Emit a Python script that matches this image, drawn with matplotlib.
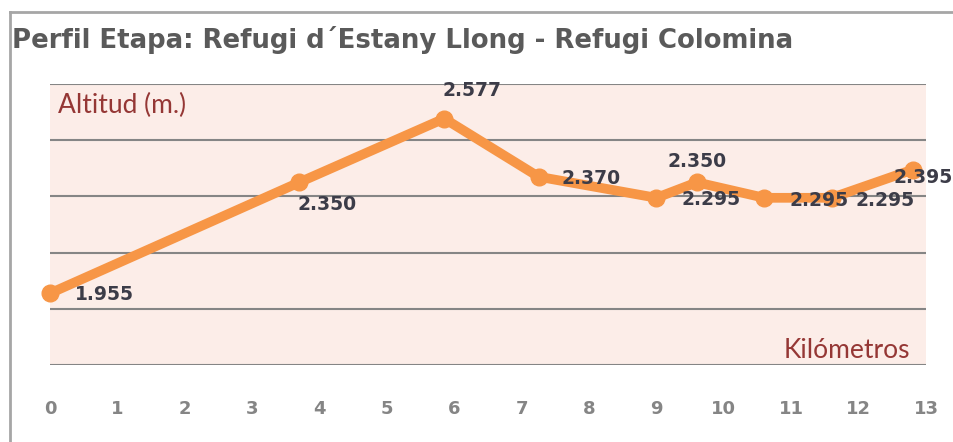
import matplotlib
matplotlib.use("Agg")
import matplotlib.pyplot as plt
from matplotlib.lines import Line2D

km = [0, 3.7, 5.85, 7.25, 9.0, 9.6, 10.6, 11.6, 12.8]
altitud = [1955, 2350, 2577, 2370, 2295, 2350, 2295, 2295, 2395]
etiquetas = ["1.955", "2.350", "2.577", "2.370", "2.295", "2.350", "2.295", "2.295", "2.395"]
xticks = list(range(0, 14))
yticks = [1700, 1900, 2100, 2300, 2500, 2700]

# offsets of each data label (pixels) and alignment
offsets = [(25, -1), (-2, -22), (-2, 28), (23, -2), (25, -2), (0, 21), (25, -3), (24, -3), (-19, -8)]
aligns = ['left', 'left', 'left', 'left', 'left', 'center', 'left', 'left', 'left']

naranja = '#f79646'
rojo = '#953735'

fig = plt.figure(figsize=(9.54, 4.42), dpi=100)
ax = fig.add_axes([50/954, 1-365/442, 876/954, 281/442])
ax.set_facecolor('#fcede8')

ax.plot(km, altitud, color=naranja, lw=7, marker='o', markersize=12,
        solid_capstyle='round', zorder=3, clip_on=False)

for x, y, t, off, ha in zip(km, altitud, etiquetas, offsets, aligns):
    ax.annotate(t, (x, y), xytext=off, textcoords='offset pixels', ha=ha, va='center',
                fontsize=13.5, fontweight='bold', color='#3c3c48', zorder=4,
                annotation_clip=False)

ax.set_xlim(0, 13)
ax.set_ylim(1700, 2700)
ax.set_xticks(xticks)
ax.set_yticks(yticks)
ax.set_yticklabels([])
ax.grid(axis='y', color='#858585', lw=1.5)
ax.set_axisbelow(True)
for s in ax.spines.values():
    s.set_visible(False)
ax.tick_params(axis='both', length=0)
ax.tick_params(axis='x', pad=25, labelsize=13, labelcolor='#858585')
for lbl in ax.get_xticklabels():
    lbl.set_fontweight('bold')

ax.text(0.009, 0.925, "Altitud (m.)", transform=ax.transAxes, ha='left', va='center',
        fontsize=19, color=rojo, family='Lato')
ax.text(0.982, 0.053, "Kilómetros", transform=ax.transAxes, ha='right', va='center',
        fontsize=19, color=rojo, family='Lato')

fig.text(12/954, 1-40/442, "Perfil Etapa: Refugi d´Estany Llong - Refugi Colomina",
         ha='left', va='center', fontsize=18.7, fontweight='bold', color='#5a5a5a')

# marco
fig.add_artist(Line2D([10/954, 10/954], [0, 1-12/442], transform=fig.transFigure, color='#a6a6a6', lw=2))
fig.add_artist(Line2D([10/954, 1], [1-12/442, 1-12/442], transform=fig.transFigure, color='#a6a6a6', lw=2))

fig.savefig("out.png", dpi=100)
